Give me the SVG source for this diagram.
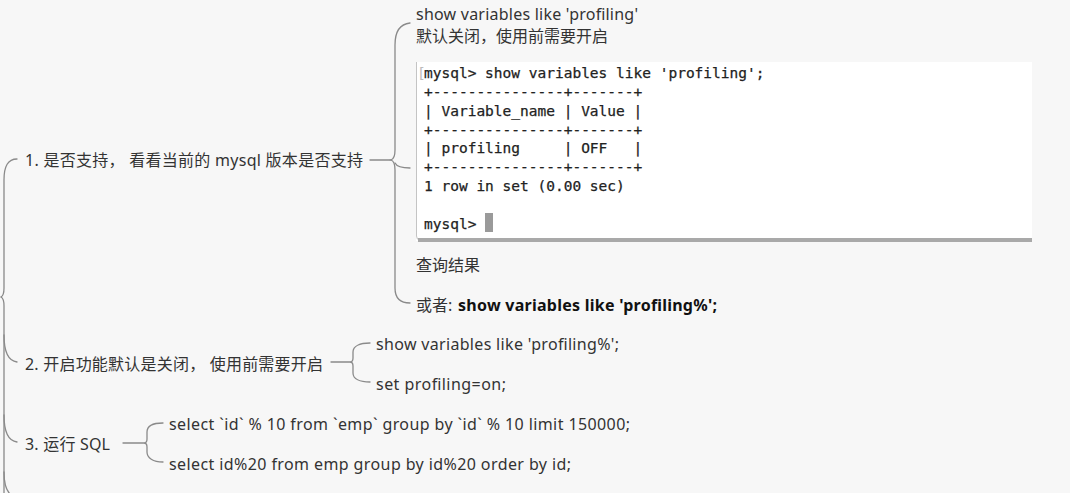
<svg xmlns="http://www.w3.org/2000/svg" width="1070" height="493" viewBox="0 0 1070 493">
<style>
.t{font-family:"Noto Sans","Open Sans","Noto Sans CJK SC",sans-serif;font-size:16px;fill:#333}
.b{font-weight:bold;fill:#111}
.m{font-family:"DejaVu Sans Mono","Liberation Mono",monospace;font-size:14.5px;fill:#222;stroke:#222;stroke-width:0.25;white-space:pre}
.c{fill:none;stroke:#8a8a8a;stroke-width:1.3;stroke-linecap:round}
</style>
<rect width="1070" height="493" fill="#f7f7f7"/>
<g id="connectors">
<path class="c" d="M17 159 C8 159 4 166 4 180 L4 288 C4 294 3 296 1 297 C3 298 4 300 4 306 L4 493"/>
<path class="c" d="M4 335 C4 352 9 361 17 362"/>
<path class="c" d="M4 415 C4 432 9 441 17 442"/>
<path class="c" d="M4 472 C4 484 6 490 10 494"/>
<path class="c" d="M370 160 L391 160"/>
<path class="c" d="M410 23 C400 24 395 31 395 45 L395 150 C395 156 394 159 391 160 C394 161 395 164 395 170 L395 288 C395 298 400 303 410 303"/>
<path class="c" d="M395 163 C397 167 402 168 410 168"/>
<path class="c" d="M331 362 L350 362"/>
<path class="c" d="M370 343 C360 343 353 346 353 352 L353 358 C353 361 352 362 350 362 C352 362 353 363 353 366 L353 373 C353 379 360 382 370 382"/>
<path class="c" d="M123 443 L144 443"/>
<path class="c" d="M163 423 C153 423 147 426 147 432 L147 439 C147 442 146 443 144 443 C146 443 147 444 147 447 L147 452 C147 458 153 462 163 462"/>
</g>
<g id="node1">
<text class="t" x="25" y="166" textLength="338" lengthAdjust="spacing">1. 是否支持， 看看当前的 mysql 版本是否支持</text>
</g>
<g id="node1a">
<text class="t" x="416" y="20" textLength="222" lengthAdjust="spacing">show variables like 'profiling'</text>
<text class="t" x="416" y="42">默认关闭，使用前需要开启</text>
</g>
<g id="screenshot">
<rect x="416" y="62" width="616" height="179" fill="#ffffff"/>
<path d="M416.5 62 L416.5 236 Q416.5 240 420 240" fill="none" stroke="#c4c4c4" stroke-width="1"/>
<rect x="418" y="238" width="614" height="4" fill="#a9a9a9"/>
<text x="417" y="78" font-family="DejaVu Sans Mono, monospace" font-size="14.5" fill="#bbbbbb">[</text>
<text class="m" x="424" y="78" xml:space="preserve">mysql&gt; show variables like 'profiling';</text>
<text class="m" x="424" y="97" xml:space="preserve">+---------------+-------+</text>
<text class="m" x="424" y="116" xml:space="preserve">| Variable_name | Value |</text>
<text class="m" x="424" y="135" xml:space="preserve">+---------------+-------+</text>
<text class="m" x="424" y="153" xml:space="preserve">| profiling     | OFF   |</text>
<text class="m" x="424" y="172" xml:space="preserve">+---------------+-------+</text>
<text class="m" x="424" y="191" xml:space="preserve">1 row in set (0.00 sec)</text>
<text class="m" x="424" y="229" xml:space="preserve">mysql&gt; </text>
<rect x="485" y="213" width="8" height="19" fill="#9a9a9a"/>
</g>
<g id="node1b">
<text class="t" x="416" y="271">查询结果</text>
</g>
<g id="node1c">
<text class="t" x="416" y="311">或者: <tspan class="b" x="458" textLength="259" lengthAdjust="spacing">show variables like 'profiling%';</tspan></text>
</g>
<g id="node2">
<text class="t" x="25" y="370" textLength="298" lengthAdjust="spacing">2. 开启功能默认是关闭， 使用前需要开启</text>
</g>
<g id="node2a">
<text class="t" x="376" y="350" textLength="243" lengthAdjust="spacing">show variables like 'profiling%';</text>
</g>
<g id="node2b">
<text class="t" x="376" y="390" textLength="130" lengthAdjust="spacing">set profiling=on;</text>
</g>
<g id="node3">
<text class="t" x="25" y="450" textLength="85" lengthAdjust="spacing">3. 运行 SQL</text>
</g>
<g id="node3a">
<text class="t" x="169" y="430" textLength="461" lengthAdjust="spacing">select `id` % 10 from `emp` group by `id` % 10 limit 150000;</text>
</g>
<g id="node3b">
<text class="t" x="169" y="470" textLength="402" lengthAdjust="spacing">select id%20 from emp group by id%20 order by id;</text>
</g>
</svg>
